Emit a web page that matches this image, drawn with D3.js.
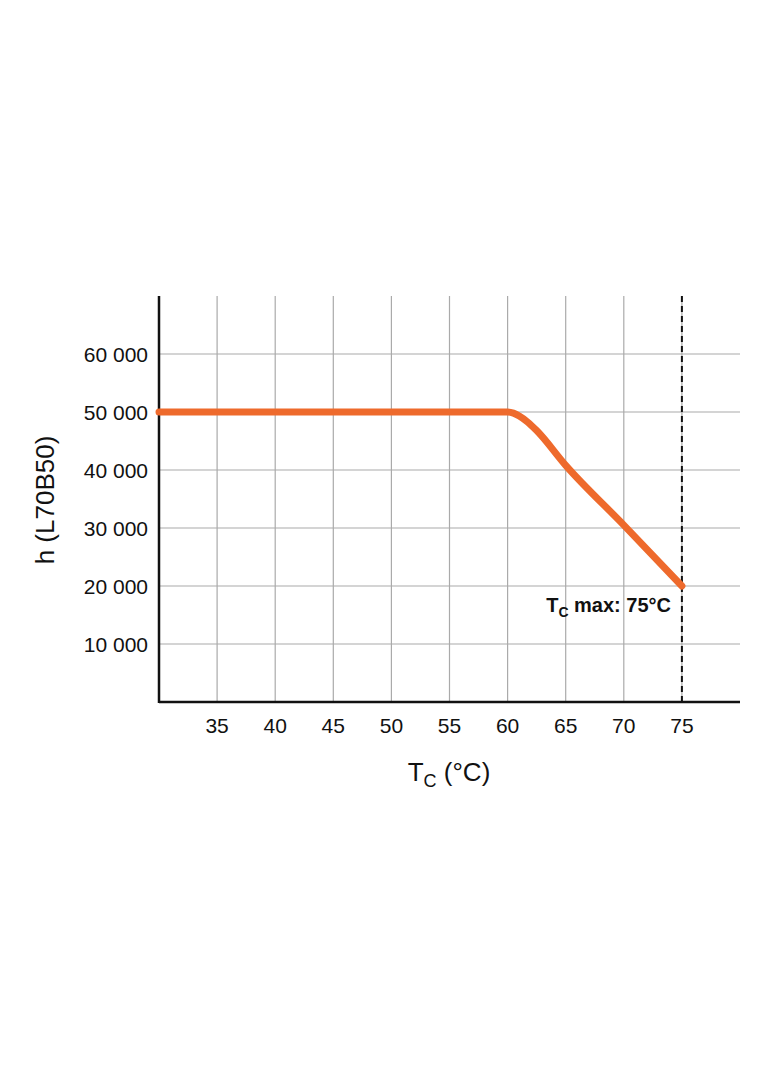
<!DOCTYPE html><html><head><meta charset="utf-8">
<script src="https://cdn.jsdelivr.net/npm/d3@7"></script>
<style>body{margin:0;background:#fff}text{font-family:"Liberation Sans",Arial,sans-serif}</style>
</head><body><svg id="c" width="784" height="1066"></svg>
<script>
const xTicks=[35,40,45,50,55,60,65,70,75];
const yTicks=[10000,20000,30000,40000,50000,60000];
const tempC=[30,60,60.5,61,61.7,62.5,65,70,75];
const hours=[50000,50000,49800,49300,48300,46800,40800,30500,20000];
const svg=d3.select("#c");
const x=d3.scaleLinear().domain([30,80]).range([159,740]);
const y=d3.scaleLinear().domain([0,70000]).range([702,296]);
const g=svg.append("g");
g.selectAll(".vx").data(xTicks).join("line").attr("x1",d=>x(d)).attr("x2",d=>x(d)).attr("y1",y(70000)).attr("y2",y(0)).attr("stroke","#aaa").attr("stroke-width",1.2);
g.selectAll(".hy").data(yTicks).join("line").attr("x1",x(30)).attr("x2",x(80)).attr("y1",d=>y(d)).attr("y2",d=>y(d)).attr("stroke","#aaa").attr("stroke-width",1.2);
svg.append("line").attr("x1",x(75)).attr("x2",x(75)).attr("y1",y(70000)).attr("y2",y(0)).attr("stroke","#111").attr("stroke-width",2).attr("stroke-dasharray","6,4");
svg.append("line").attr("x1",x(30)).attr("x2",x(30)).attr("y1",y(70000)).attr("y2",y(0)+1).attr("stroke","#111").attr("stroke-width",2.5);
svg.append("line").attr("x1",x(30)).attr("x2",x(80)).attr("y1",y(0)).attr("y2",y(0)).attr("stroke","#111").attr("stroke-width",2.5);
svg.selectAll(".xl").data(xTicks).join("text").attr("x",d=>x(d)).attr("y",733).attr("text-anchor","middle").attr("font-size",21).attr("fill","#111").text(d=>d);
svg.selectAll(".yl").data(yTicks).join("text").attr("x",148).attr("y",d=>y(d)+8).attr("text-anchor","end").attr("font-size",21).attr("fill","#111").text(d=>d3.format(",")(d).replace(","," "));
const line=d3.line().x((d,i)=>x(tempC[i])).y(d=>y(d)).curve(d3.curveMonotoneX);
svg.append("path").attr("d",line(hours)).attr("fill","none").attr("stroke","#ee6a2c").attr("stroke-width",7).attr("stroke-linecap","round");
const t=svg.append("text").attr("x",671).attr("y",612).attr("text-anchor","end").attr("font-size",20).attr("font-weight","bold").attr("fill","#111");
t.append("tspan").text("T");t.append("tspan").attr("font-size",14).attr("dy",5).text("C");t.append("tspan").attr("dy",-5).text(" max: 75°C");
const xt=svg.append("text").attr("x",449).attr("y",781).attr("text-anchor","middle").attr("font-size",26).attr("fill","#111");
xt.append("tspan").text("T");xt.append("tspan").attr("font-size",18).attr("dy",6).text("C");xt.append("tspan").attr("dy",-6).text(" (°C)");
svg.append("text").attr("transform","translate(54,500) rotate(-90)").attr("text-anchor","middle").attr("font-size",26).attr("fill","#111").text("h (L70B50)");
</script></body></html>
